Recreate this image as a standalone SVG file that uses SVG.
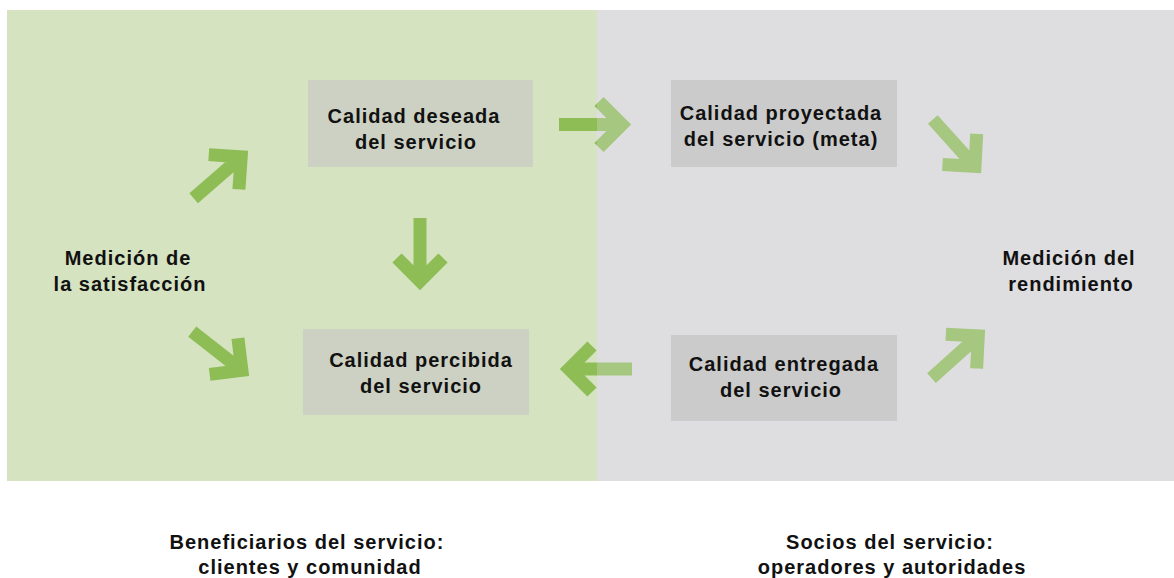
<svg xmlns="http://www.w3.org/2000/svg" xmlns:xlink="http://www.w3.org/1999/xlink" width="1174" height="578" viewBox="0 0 1174 578">
<style>
.t{font-family:"Liberation Sans",Arial,sans-serif;font-weight:bold;font-size:20px;fill:#111;text-anchor:middle;letter-spacing:1px}
.a{fill:none;stroke:#8fbd55;stroke-width:13;stroke-linejoin:miter;stroke-linecap:butt}
.bg{fill:#cdd1c3}
.bgr{fill:#cbcbcb}
</style>
<defs>
<path id="arr" class="a" d="M-72,0 H-8 M-32,-23 L-9,0 L-32,23"/>
</defs>
<rect width="1174" height="578" fill="#ffffff"/>
<rect id="panel-left" x="7" y="10" width="590" height="471" fill="#d5e3c1"/>
<rect id="panel-right" x="597" y="10" width="577" height="471" fill="#dfdfe0"/>
<g id="connectors">
<use xlink:href="#arr" href="#arr" transform="translate(248,151) rotate(-41)"/>
<use xlink:href="#arr" href="#arr" transform="translate(249,376) rotate(38)"/>
<use xlink:href="#arr" href="#arr" transform="translate(420,290) rotate(90)"/>
<use xlink:href="#arr" href="#arr" transform="translate(631,124.5)"/>
<use xlink:href="#arr" href="#arr" transform="translate(560,369) rotate(180)"/>
<use xlink:href="#arr" href="#arr" transform="translate(981,173) rotate(48)"/>
<use xlink:href="#arr" href="#arr" transform="translate(985,330) rotate(-42)"/>
</g>
<rect x="597" y="10" width="577" height="471" fill="#dfdfe0" opacity="0.3"/>
<g id="node-deseada">
<rect class="bg" x="308" y="80" width="225" height="87"/>
<text class="t" x="414" y="123">Calidad deseada</text>
<text class="t" x="416" y="149">del servicio</text>
</g>
<g id="node-proyectada">
<rect class="bgr" x="671" y="80" width="226" height="87"/>
<text class="t" x="781" y="120">Calidad proyectada</text>
<text class="t" x="781" y="146">del servicio (meta)</text>
</g>
<g id="node-percibida">
<rect class="bg" x="303" y="329" width="226" height="86"/>
<text class="t" x="421" y="367">Calidad percibida</text>
<text class="t" x="421" y="393">del servicio</text>
</g>
<g id="node-entregada">
<rect class="bgr" x="671" y="335" width="226" height="86"/>
<text class="t" x="784" y="371">Calidad entregada</text>
<text class="t" x="781" y="397">del servicio</text>
</g>
<g id="node-satisfaccion">
<text class="t" x="128" y="265">Medición de</text>
<text class="t" x="130" y="291">la satisfacción</text>
</g>
<g id="node-rendimiento">
<text class="t" x="1069" y="265">Medición del</text>
<text class="t" x="1071" y="291">rendimiento</text>
</g>
<g id="label-beneficiarios">
<text class="t" x="307" y="549">Beneficiarios del servicio:</text>
<text class="t" x="310" y="574">clientes y comunidad</text>
</g>
<g id="label-socios">
<text class="t" x="890" y="549">Socios del servicio:</text>
<text class="t" x="892" y="574">operadores y autoridades</text>
</g>
</svg>
